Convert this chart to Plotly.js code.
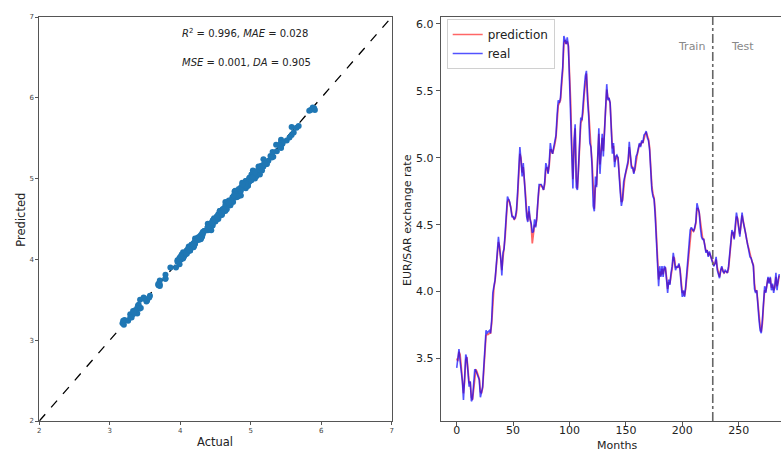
<!DOCTYPE html>
<html>
<head>
<meta charset="utf-8">
<script src="https://cdn.plot.ly/plotly-3.0.1.min.js"></script>
<style>html,body{margin:0;padding:0;background:#fff;}#chart{width:781px;height:451px;}</style>
</head>
<body>
<div id="chart"></div>
<script>
// ---- Data ----
const real = [
3.43,3.52,3.57,3.48,3.41,3.33,3.19,3.39,3.53,3.50,
3.40,3.29,3.33,3.18,3.20,3.31,3.42,3.41,3.39,3.36,
3.34,3.21,3.26,3.29,3.44,3.56,3.71,3.69,3.70,3.71,
3.69,3.79,3.99,4.05,4.09,4.19,4.29,4.41,4.32,4.25,
4.12,4.29,4.32,4.44,4.59,4.71,4.69,4.67,4.62,4.56,
4.56,4.54,4.56,4.61,4.75,4.93,5.08,4.98,4.86,4.96,
4.82,4.69,4.56,4.52,4.64,4.54,4.51,4.44,4.45,4.54,
4.48,4.56,4.71,4.80,4.80,4.80,4.78,4.76,4.82,4.96,
4.93,4.88,4.96,5.11,5.05,5.03,5.08,5.12,5.17,5.32,
5.43,5.41,5.45,5.58,5.68,5.91,5.88,5.85,5.90,5.83,
5.58,5.36,5.03,4.77,5.13,5.25,4.78,4.76,4.96,5.16,
5.30,5.28,5.37,5.51,5.61,5.65,5.43,5.31,5.11,5.08,
4.93,4.64,4.60,4.86,4.78,5.06,5.22,4.88,5.08,5.18,
5.01,5.23,5.43,5.55,5.43,5.45,5.41,5.18,5.03,5.11,
4.93,5.01,5.02,5.00,4.83,4.74,4.64,4.69,4.82,4.86,
4.91,4.93,4.98,5.12,4.98,4.92,4.93,4.88,4.93,5.01,
5.03,5.08,5.11,5.08,5.13,5.11,5.17,5.18,5.20,5.15,
5.13,5.06,4.88,4.76,4.71,4.69,4.56,4.39,4.21,4.04,
4.19,4.11,4.19,4.11,4.19,4.18,4.09,3.99,4.09,4.05,
4.14,4.19,4.29,4.24,4.16,4.19,4.18,4.21,4.16,4.05,
3.96,4.01,3.96,4.04,4.14,4.21,4.31,4.46,4.48,4.46,
4.45,4.48,4.52,4.66,4.61,4.59,4.48,4.41,4.39,4.39,
4.34,4.29,4.31,4.26,4.30,4.26,4.24,4.21,4.19,4.21,
4.26,4.16,4.12,4.10,4.16,4.19,4.15,4.14,4.16,4.15,
4.14,4.19,4.29,4.39,4.46,4.44,4.39,4.50,4.59,4.54,
4.47,4.41,4.51,4.59,4.52,4.46,4.44,4.39,4.34,4.31,
4.26,4.25,4.21,4.19,4.02,3.99,4.01,3.86,3.79,3.71,
3.69,3.79,3.94,4.04,3.99,4.06,4.11,4.06,4.11,4.01,
4.06,3.99,4.04,4.14,4.01,4.09,4.13
];
const prediction = [
3.50,3.48,3.55,3.53,3.44,3.36,3.24,3.33,3.49,3.51,
3.43,3.32,3.32,3.21,3.19,3.28,3.39,3.42,3.40,3.37,
3.35,3.25,3.24,3.28,3.40,3.53,3.67,3.68,3.68,3.69,
3.69,3.76,3.94,4.03,4.08,4.16,4.26,4.37,4.34,4.27,
4.16,4.25,4.31,4.41,4.55,4.67,4.69,4.66,4.63,4.57,
4.55,4.54,4.55,4.59,4.71,4.88,5.03,5.00,4.89,4.93,
4.85,4.73,4.60,4.53,4.60,4.56,4.50,4.36,4.42,4.50,
4.49,4.54,4.67,4.77,4.80,4.79,4.78,4.76,4.80,4.91,
4.93,4.89,4.94,5.06,5.06,5.03,5.06,5.10,5.15,5.27,
5.39,5.41,5.43,5.54,5.65,5.85,5.88,5.85,5.87,5.84,
5.64,5.42,5.10,4.84,5.05,5.22,4.85,4.77,4.91,5.10,
5.26,5.28,5.34,5.47,5.57,5.63,5.48,5.33,5.15,5.08,
4.97,4.71,4.62,4.79,4.80,5.00,5.18,4.95,5.04,5.15,
5.05,5.18,5.38,5.51,5.45,5.44,5.41,5.24,5.07,5.09,
4.97,4.99,5.01,5.00,4.87,4.77,4.67,4.68,4.78,4.85,
4.89,4.92,4.96,5.08,5.01,4.94,4.93,4.89,4.91,4.98,
5.02,5.06,5.10,5.09,5.12,5.11,5.15,5.17,5.19,5.16,
5.14,5.08,4.93,4.79,4.73,4.70,4.60,4.44,4.26,4.09,
4.15,4.12,4.17,4.13,4.17,4.18,4.11,4.02,4.07,4.06,
4.12,4.17,4.26,4.25,4.18,4.18,4.18,4.20,4.17,4.08,
3.99,4.00,3.97,4.02,4.11,4.19,4.28,4.42,4.47,4.46,
4.45,4.47,4.51,4.62,4.62,4.59,4.51,4.43,4.40,4.39,
4.35,4.30,4.31,4.27,4.29,4.27,4.25,4.22,4.20,4.21,
4.24,4.18,4.13,4.11,4.15,4.18,4.16,4.14,4.15,4.15,
4.14,4.17,4.26,4.36,4.44,4.44,4.40,4.47,4.56,4.55,
4.49,4.43,4.49,4.57,4.53,4.48,4.45,4.40,4.35,4.32,
4.27,4.25,4.22,4.20,4.06,4.00,4.01,3.90,3.81,3.74,
3.70,3.76,3.90,4.01,4.00,4.05,4.10,4.07,4.10,4.03,
4.05,4.01,4.03,4.11,4.04,4.07,4.12
];
const months = real.map((_, i) => i);
const trainSize = 227;
const diagLine = [2, 7];
const scatterTicks = [2, 3, 4, 5, 6, 7];
const monthTicks = [0, 50, 100, 150, 200, 250];
const rateTicks = [3.5, 4.0, 4.5, 5.0, 5.5, 6.0];
const metricsLine1 = "<i>R</i><sup>2</sup> = 0.996, <i>MAE</i> = 0.028";
const metricsLine2 = "<i>MSE</i> = 0.001, <i>DA</i> = 0.905";

const FONT = "DejaVu Sans, Verdana, sans-serif";
const AX = "#555";

const traces = [
  {x: diagLine, y: diagLine, type: "scatter", mode: "lines", xaxis: "x", yaxis: "y",
   line: {color: "#000", width: 1.3, dash: "dash"}, showlegend: false, hoverinfo: "skip"},
  {x: real, y: prediction, type: "scatter", mode: "markers", xaxis: "x", yaxis: "y",
   marker: {color: "#1f77b4", size: 6}, showlegend: false},
  {x: months, y: prediction, type: "scatter", mode: "lines", name: "prediction", xaxis: "x2", yaxis: "y2",
   line: {color: "rgba(255,0,0,0.6)", width: 1.7}},
  {x: months, y: real, type: "scatter", mode: "lines", name: "real", xaxis: "x2", yaxis: "y2",
   line: {color: "rgba(0,0,255,0.68)", width: 1.6}}
];

const yDom = [1 - 421/451, 1 - 17/451];
const layout = {
  width: 781, height: 451,
  margin: {l: 0, r: 0, t: 0, b: 0},
  paper_bgcolor: "#fff", plot_bgcolor: "#fff",
  font: {family: FONT, color: "#333"},
  showlegend: true,
  legend: {x: 446.7/781, y: 1 - 19/451, xanchor: "left", yanchor: "top",
           bgcolor: "rgba(255,255,255,0.8)", bordercolor: "#d0d0d0", borderwidth: 1,
           font: {size: 12, color: "#222", family: FONT}, itemwidth: 30, tracegroupgap: 0},
  xaxis: {domain: [39.3/781, 391.7/781], range: [2, 7], anchor: "y",
          tickmode: "array", tickvals: scatterTicks, ticks: "outside", ticklen: 3, tickcolor: AX,
          tickfont: {size: 7, color: "#444"}, showline: true, mirror: true, linecolor: AX, linewidth: 1,
          showgrid: false, zeroline: false},
  yaxis: {domain: yDom, range: [2, 7], anchor: "x",
          tickmode: "array", tickvals: scatterTicks, ticks: "outside", ticklen: 3, tickcolor: AX,
          tickfont: {size: 7, color: "#444"}, showline: true, mirror: true, linecolor: AX, linewidth: 1,
          showgrid: false, zeroline: false},
  xaxis2: {domain: [440.7/781, 1], range: [-14.2, 287.5], anchor: "y2",
           tickmode: "array", tickvals: monthTicks, ticks: "outside", ticklen: 4, tickcolor: AX,
           ticklabelstandoff: -5,
           tickfont: {size: 11, color: "#222"}, showline: true, mirror: true, linecolor: AX, linewidth: 1,
           showgrid: false, zeroline: false},
  yaxis2: {domain: yDom, range: [3.033, 6.052], anchor: "x2",
           tickmode: "array", tickvals: rateTicks, tickformat: ".1f", ticks: "outside", ticklen: 4, tickcolor: AX,
           tickfont: {size: 11, color: "#222"}, showline: true, mirror: false, linecolor: AX, linewidth: 1,
           showgrid: false, zeroline: false},
  shapes: [
    {type: "line", xref: "x2", yref: "y2 domain", x0: trainSize, x1: trainSize, y0: 0, y1: 1,
     line: {color: "#666", width: 1.6, dash: "dashdot"}}
  ],
  annotations: [
    {xref: "x", yref: "y", x: 4.0, y: 6.8, text: metricsLine1, showarrow: false, xanchor: "left", yanchor: "middle",
     font: {size: 10, color: "#222", family: FONT}},
    {xref: "x", yref: "y", x: 4.0, y: 6.44, text: metricsLine2, showarrow: false, xanchor: "left", yanchor: "middle",
     font: {size: 10, color: "#222", family: FONT}},
    {xref: "paper", yref: "paper", x: 215/781, y: 1 - 441.7/451, text: "Actual", showarrow: false,
     xanchor: "center", yanchor: "middle", font: {size: 11.5, color: "#222", family: FONT}},
    {xref: "paper", yref: "paper", x: 20.7/781, y: 1 - 220/451, text: "Predicted", showarrow: false, textangle: -90,
     xanchor: "center", yanchor: "middle", font: {size: 11.5, color: "#222", family: FONT}},
    {xref: "paper", yref: "paper", x: 616.7/781, y: 1 - 445/451, text: "Months", showarrow: false,
     xanchor: "center", yanchor: "middle", font: {size: 11, color: "#222", family: FONT}},
    {xref: "paper", yref: "paper", x: 407/781, y: 1 - 220/451, text: "EUR/SAR exchange rate", showarrow: false, textangle: -90,
     xanchor: "center", yanchor: "middle", font: {size: 11, color: "#222", family: FONT}},
    {xref: "x2", yref: "y2", x: 221.6, y: 5.83, text: "Train", showarrow: false, xanchor: "right", yanchor: "middle",
     font: {size: 11, color: "#888", family: FONT}},
    {xref: "x2", yref: "y2", x: 241.4, y: 5.83, text: "Test", showarrow: false, xanchor: "left", yanchor: "middle",
     font: {size: 11, color: "#888", family: FONT}}
  ]
};

Plotly.newPlot("chart", traces, layout, {staticPlot: true, displayModeBar: false});
</script>
</body>
</html>
